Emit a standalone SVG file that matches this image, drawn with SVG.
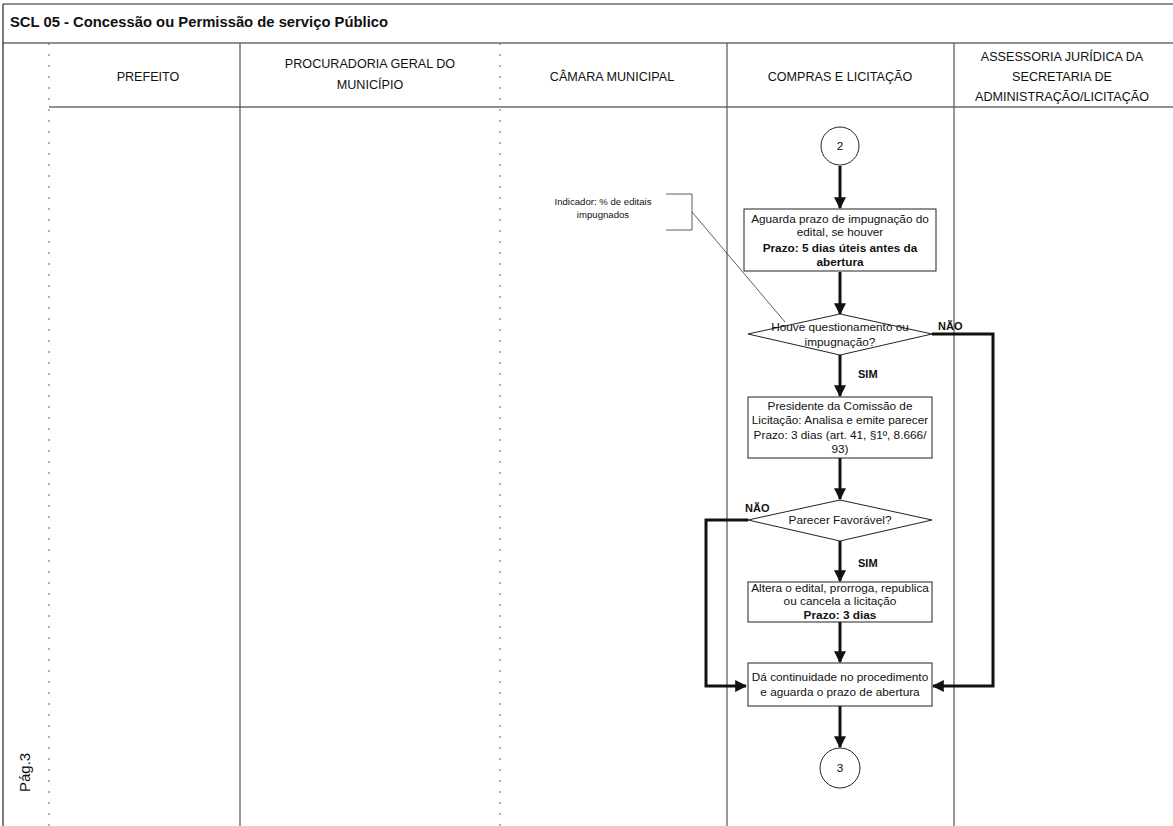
<svg xmlns="http://www.w3.org/2000/svg" width="1173" height="826" viewBox="0 0 1173 826">
  <style>
    .frame { stroke: #222; stroke-width: 1.2; fill: none; }
    .lane { stroke: #555; stroke-width: 1.2; fill: none; }
    .lane-dot { stroke: #666; stroke-width: 1; stroke-dasharray: 2 9; fill: none; }
    .hdr { font-family: "Liberation Sans", Arial, sans-serif; font-size: 12.6px; fill: #111; text-anchor: middle; }
    .title { font-family: "Liberation Sans", Arial, sans-serif; font-size: 14.8px; font-weight: bold; fill: #111; }
    .node { fill: #fff; stroke: #222; stroke-width: 1; }
    .txt { font-family: "Liberation Sans", Arial, sans-serif; font-size: 11.8px; fill: #111; text-anchor: middle; }
    .small { font-size: 9.6px; }
    .b { font-weight: bold; }
    .lbl { font-family: "Liberation Sans", Arial, sans-serif; font-size: 11px; font-weight: bold; fill: #111; }
    .flow { stroke: #111; stroke-width: 3; fill: none; marker-end: url(#arrow); }
    .note { stroke: #333; stroke-width: 0.8; fill: none; }
  </style>
  <defs>
    <marker id="arrow" viewBox="0 0 10 10" refX="9" refY="5" markerWidth="4" markerHeight="4.4" orient="auto" markerUnits="strokeWidth">
      <path d="M0,0 L10,5 L0,10 z" fill="#111"/>
    </marker>
  </defs>

  <rect width="1173" height="826" fill="#fff"/>

  <!-- page frame and title bar -->
  <g id="frame">
    <line class="frame" x1="3" y1="4" x2="1173" y2="4"/>
    <line class="frame" x1="3" y1="4" x2="3" y2="826"/>
    <line class="frame" x1="3" y1="43" x2="1173" y2="43"/>
    <line class="frame" x1="49" y1="107" x2="1173" y2="107"/>
    <text class="title" x="10" y="27">SCL 05 - Concessão ou Permissão de serviço Público</text>
    <text x="30" y="792" transform="rotate(-90 30 792)" font-family="Liberation Sans, Arial, sans-serif" font-size="15" fill="#111">Pág.3</text>
  </g>

  <!-- swimlanes -->
  <g id="lanes">
    <line class="lane-dot" x1="49" y1="43" x2="49" y2="826"/>
    <line class="lane" x1="240" y1="43" x2="240" y2="826"/>
    <line class="lane-dot" x1="500" y1="43" x2="500" y2="826"/>
    <line class="lane" x1="727" y1="43" x2="727" y2="826"/>
    <line class="lane" x1="954" y1="43" x2="954" y2="826"/>
    <text class="hdr" x="148" y="81">PREFEITO</text>
    <text class="hdr" x="370" y="68">PROCURADORIA GERAL DO</text>
    <text class="hdr" x="370" y="89">MUNICÍPIO</text>
    <text class="hdr" x="612" y="81">CÂMARA MUNICIPAL</text>
    <text class="hdr" x="840" y="81">COMPRAS E LICITAÇÃO</text>
    <text class="hdr" x="1062" y="61">ASSESSORIA JURÍDICA DA</text>
    <text class="hdr" x="1062" y="81">SECRETARIA DE</text>
    <text class="hdr" x="1062" y="101">ADMINISTRAÇÃO/LICITAÇÃO</text>
  </g>

  <!-- connectors -->
  <g id="connectors">
    <line class="flow" x1="840" y1="166" x2="840" y2="208"/>
    <line class="flow" x1="840" y1="272" x2="840" y2="314"/>
    <line class="flow" x1="840" y1="355" x2="840" y2="396"/>
    <line class="flow" x1="840" y1="458" x2="840" y2="499"/>
    <line class="flow" x1="840" y1="541" x2="840" y2="581"/>
    <line class="flow" x1="840" y1="622" x2="840" y2="662"/>
    <line class="flow" x1="840" y1="706" x2="840" y2="747"/>
    <polyline class="flow" points="932,334 993,334 993,686 933,686"/>
    <polyline class="flow" points="748,520 706,520 706,686 746,686"/>
    <text class="lbl" x="938" y="330">NÃO</text>
    <text class="lbl" x="858" y="378">SIM</text>
    <text class="lbl" x="745" y="512">NÃO</text>
    <text class="lbl" x="858" y="567">SIM</text>
  </g>

  <!-- indicator annotation -->
  <g id="indicator">
    <polyline class="note" points="666,194 692,194 692,230 666,230"/>
    <line class="note" x1="692" y1="212" x2="785" y2="322"/>
    <text class="txt small" x="603" y="205">Indicador: % de editais</text>
    <text class="txt small" x="603" y="218">impugnados</text>
  </g>

  <g id="start-2">
    <circle class="node" cx="840" cy="146" r="19"/>
    <text class="txt" x="840" y="150">2</text>
  </g>

  <g id="aguarda-prazo">
    <rect class="node" x="744" y="209" width="192" height="62"/>
    <text class="txt" x="840" y="223">Aguarda prazo de impugnação do</text>
    <text class="txt" x="840" y="236">edital, se houver</text>
    <text class="txt b" x="840" y="252">Prazo: 5 dias úteis antes da</text>
    <text class="txt b" x="840" y="266">abertura</text>
  </g>

  <g id="houve-questionamento">
    <polygon class="node" points="840,314 932,334 840,355 748,334"/>
    <text class="txt" x="840" y="331">Houve questionamento ou</text>
    <text class="txt" x="840" y="346">impugnação?</text>
  </g>

  <g id="presidente-comissao">
    <rect class="node" x="748" y="397" width="184" height="61"/>
    <text class="txt" x="840" y="410">Presidente da Comissão de</text>
    <text class="txt" x="840" y="424">Licitação: Analisa e emite parecer</text>
    <text class="txt" x="840" y="439">Prazo: 3 dias (art. 41, §1º, 8.666/</text>
    <text class="txt" x="840" y="453">93)</text>
  </g>

  <g id="parecer-favoravel">
    <polygon class="node" points="840,500 932,520 840,541 748,520"/>
    <text class="txt" x="840" y="524">Parecer Favorável?</text>
  </g>

  <g id="altera-edital">
    <rect class="node" x="748" y="582" width="184" height="40"/>
    <text class="txt" x="840" y="592">Altera o edital, prorroga, republica</text>
    <text class="txt" x="840" y="605">ou cancela a licitação</text>
    <text class="txt b" x="840" y="619">Prazo: 3 dias</text>
  </g>

  <g id="da-continuidade">
    <rect class="node" x="748" y="663" width="184" height="43"/>
    <text class="txt" x="840" y="681">Dá continuidade no procedimento</text>
    <text class="txt" x="840" y="696">e aguarda o prazo de abertura</text>
  </g>

  <g id="end-3">
    <circle class="node" cx="840" cy="768" r="20"/>
    <text class="txt" x="840" y="772">3</text>
  </g>
</svg>
